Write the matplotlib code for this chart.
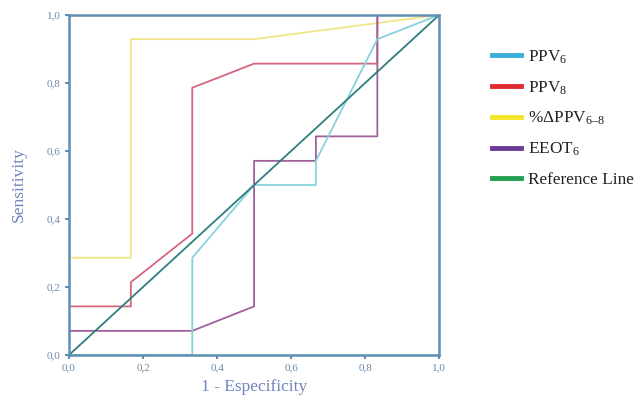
import numpy as np
import matplotlib.pyplot as plt
from matplotlib.lines import Line2D
from matplotlib.ticker import FuncFormatter

# ROC curve points (1 - specificity, sensitivity)
ppv6_x = [0.0, 0.333, 0.333, 0.5, 0.667, 0.667, 0.833, 1.0]
ppv6_y = [0.0, 0.0, 0.286, 0.5, 0.5, 0.571, 0.929, 1.0]

ppv8_x = [0.0, 0.0, 0.167, 0.167, 0.333, 0.333, 0.5, 0.833, 0.833, 1.0]
ppv8_y = [0.0, 0.143, 0.143, 0.214, 0.357, 0.786, 0.857, 0.857, 1.0, 1.0]

dppv_x = [0.0, 0.0, 0.167, 0.167, 0.5, 1.0]
dppv_y = [0.0, 0.286, 0.286, 0.929, 0.929, 1.0]

eeot_x = [0.0, 0.0, 0.333, 0.5, 0.5, 0.667, 0.667, 0.833, 0.833, 1.0]
eeot_y = [0.0, 0.071, 0.071, 0.143, 0.571, 0.571, 0.643, 0.643, 1.0, 1.0]

ref_x = [0.0, 1.0]
ref_y = [0.0, 1.0]

labels = ["PPV$_6$", "PPV$_8$", "%ΔPPV$_{6\u20138}$", "EEOT$_6$", "Reference Line"]
legend_colors = ["#3aaed6", "#e02a2e", "#f2e52a", "#6a3c96", "#23a052"]

plt.rcParams['font.family'] = ['Liberation Serif', 'DejaVu Serif']
plt.rcParams['mathtext.fontset'] = 'custom'
plt.rcParams['mathtext.rm'] = 'Liberation Serif'
plt.rcParams['mathtext.it'] = 'Liberation Serif'

fig = plt.figure(figsize=(6.43, 4.01), dpi=100)
ax = fig.add_axes([0.1073, 0.1147, 0.5757, 0.8479])

ax.plot(dppv_x, dppv_y, color="#f3e48a", lw=1.3)
ax.plot(ppv8_x, ppv8_y, color="#d4667e", lw=1.3)
ax.plot(eeot_x, eeot_y, color="#a0609a", lw=1.3)
ax.plot(ppv6_x, ppv6_y, color="#86d2dc", lw=1.3)
ax.plot(ref_x, ref_y, color="#2f7d80", lw=1.3)

ax.set_xlim(0, 1)
ax.set_ylim(0, 1)
ax.set_xticks(np.arange(0, 1.01, 0.2))
ax.set_yticks(np.arange(0, 1.01, 0.2))
fmt = FuncFormatter(lambda v, p: ("%.1f" % v).replace(".", ","))
ax.xaxis.set_major_formatter(fmt)
ax.yaxis.set_major_formatter(fmt)

spine_c = "#5f8fb0"
for s in ax.spines.values():
    s.set_color(spine_c)
    s.set_linewidth(1.8)
ax.tick_params(colors=spine_c, labelcolor="#6c8aa8", labelsize=8,
               length=3, width=1.5, direction="out", pad=3)

ax.set_xlabel("1 - Especificity", color="#7283bd", fontsize=12.5, labelpad=5)
ax.set_ylabel("Sensitivity", color="#7283bd", fontsize=12.5, labelpad=14)

handles = [Line2D([0], [0], color=c, lw=3.5) for c in legend_colors]
fig.legend(handles, labels, loc="upper left", bbox_to_anchor=(0.741, 0.918),
           frameon=False, fontsize=12.4, handlelength=1.7, handletextpad=0.4,
           labelspacing=0.78, labelcolor="#222222")

fig.savefig("out.png", dpi=100)
